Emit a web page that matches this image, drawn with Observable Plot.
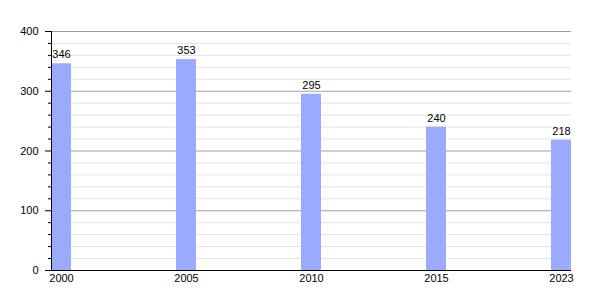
<!DOCTYPE html>
<html><head><meta charset="utf-8">
<script src="https://cdn.jsdelivr.net/npm/d3@7"></script>
<script src="https://cdn.jsdelivr.net/npm/@observablehq/plot@0.6"></script>
<style>body{margin:0;background:#fff}</style>
</head><body><div id="chart"></div>
<script>
const years = ["2000", "2005", "2010", "2015", "2023"];
const values = [346, 353, 295, 240, 218];
const majorTicks = [0, 100, 200, 300, 400];
const minorTicks = d3.range(0, 401, 20).filter(v => v % 100 !== 0);

const data = years.map((y, i) => ({year: y, value: values[i]}));
const font = "Liberation Sans, Arial, sans-serif";

const chart = Plot.plot({
  width: 600, height: 300,
  marginLeft: 51, marginRight: 29, marginTop: 31, marginBottom: 30,
  style: {fontFamily: font, fontSize: "11px", color: "#000", background: "#fff"},
  x: {type: "band", domain: years, paddingInner: 0.84, paddingOuter: 0, label: null},
  y: {domain: [0, 400], label: null},
  marks: [
    Plot.ruleY(minorTicks, {stroke: "#e3e3e3", strokeWidth: 1}),
    Plot.ruleY(majorTicks.filter(v => v > 0), {stroke: "#a0a0a0", strokeWidth: 1}),
    Plot.barY(data, {x: "year", y: "value", fill: "#99aaff"}),
    Plot.text(data, {x: "year", y: "value", text: d => String(d.value), dy: -9, fill: "#000", fontSize: 11}),
    Plot.axisY({ticks: minorTicks, tickSize: 3, text: null, stroke: "#000", strokeOpacity: 1}),
    Plot.axisY({ticks: majorTicks, tickSize: 6, tickPadding: 7, stroke: "#000", strokeOpacity: 1, fill: "#000", fontSize: 11}),
    Plot.axisX({tickSize: 0, tickPadding: 4, fill: "#000", fontSize: 11}),
    Plot.ruleY([0], {stroke: "#000"}),
    Plot.frame({anchor: "left", stroke: "#000"})
  ]
});
document.getElementById("chart").appendChild(chart);
</script>
</body></html>
